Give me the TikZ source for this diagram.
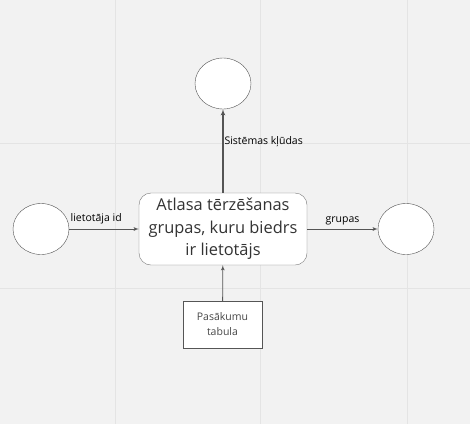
\documentclass[tikz,border=0pt]{standalone}
\usepackage{fontspec}
\setmainfont{Open Sans}
\usepackage{xcolor}
\usetikzlibrary{positioning}
\usetikzlibrary{shapes.geometric, arrows}
\definecolor{bgcol}{HTML}{F2F2F2}
\definecolor{gridcol}{HTML}{E4E4E4}
\definecolor{edgecol}{HTML}{555555}
\definecolor{txtcol}{HTML}{333333}
\tikzstyle{line} = [draw, -latex']

\begin{document}
\begin{tikzpicture}[x=1pt, y=-1pt,
		entity/.style={draw=edgecol, fill=white, ellipse, minimum width=56pt, minimum height=51pt, inner sep=0pt},
		flow/.style={line, edgecol, thick},
		lbl/.style={font=\fontsize{10.5}{12}\selectfont, text=black, inner sep=1pt}]
			\useasboundingbox (0, 0) rectangle (470, 424);
			\fill[bgcol] (0, 0) rectangle (470, 424);
			\foreach \gx in {115, 260, 407} \draw[gridcol, line width=1pt] (\gx, 0) -- (\gx, 424);
			\foreach \gy in {143, 288} \draw[gridcol, line width=1pt] (0, \gy) -- (470, \gy);
			
			\node[draw=edgecol!80, fill=white, rounded corners=12pt, minimum width=168pt, minimum height=72pt, align=center, text=txtcol, font=\fontsize{16.4}{22.5}\selectfont] at (223, 229) (process) {Atlasa tērzēšanas\\grupas, kuru biedrs\\ir lietotājs};
			
			\node[entity] at (41, 229) (user) {};
			\node[entity] at (406, 229) (groups) {};
			\node[entity] at (223, 83.5) (errors) {};
			\node[draw=edgecol, fill=white, minimum width=79pt, minimum height=47pt, align=center, text=txtcol!90, font=\fontsize{10.5}{15}\selectfont] at (222.5, 324.5) (events) {Pasākumu\\tabula};
			
			\path [flow] (user) -- node[lbl, above right, pos=0, yshift=4pt] (luser) {lietotāja id} (process);
			\path [flow] (process) -- node[lbl, above, yshift=3pt] (lgroups) {grupas} (groups);
			\path [flow, line width=1.1pt] (process) -- node[lbl, right, pos=0.61] (lerrors) {Sistēmas kļūdas} (errors);
			\path [flow] (events) -- (process);
			
		\end{tikzpicture}
\end{document}
